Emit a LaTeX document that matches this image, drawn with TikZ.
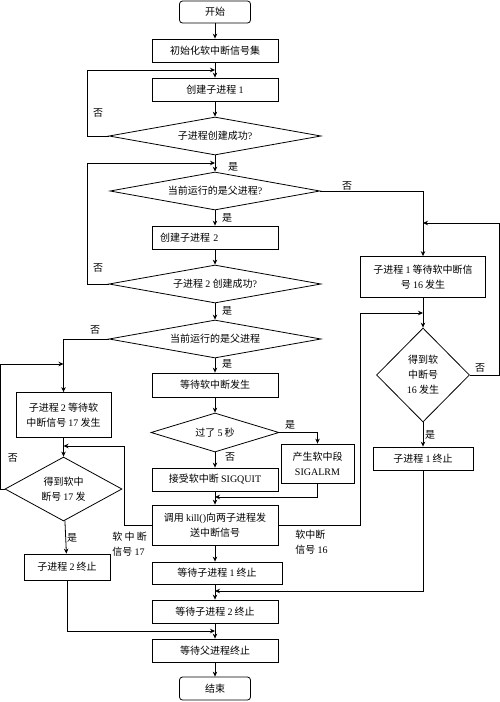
\documentclass[tikz,border=0pt]{standalone}
\usepackage{fontspec}
\setmainfont{Liberation Serif}
\newfontfamily\cjk{Noto Sans CJK SC}
\usetikzlibrary{shapes.geometric,arrows.meta}
\newcommand\zhfont{\cjk\fontsize{10}{15}\selectfont}
\newcommand\en[1]{{\rmfamily #1}}
\tikzset{
  box/.style={draw, rectangle, inner sep=0pt, align=center, font=\zhfont},
  term/.style={box, rounded corners=3pt},
  dia/.style={draw, diamond, inner sep=0pt, align=center, font=\zhfont},
  lbl/.style={inner sep=0pt, font=\zhfont},
  arr/.style={-{Stealth[length=5pt,width=4.5pt]}},
}
\begin{document}
\begin{tikzpicture}[x=1pt,y=-1pt,line width=0.8pt]
\useasboundingbox (0,0) rectangle (500,702);
% centre column
\node[term, minimum width=71pt, minimum height=22pt] (start) at (215,12) {开始};
\node[box, minimum width=126pt, minimum height=23pt] (init) at (215,50.5) {初始化软中断信号集};
\node[box, minimum width=126pt, minimum height=23pt] (c1) at (215,89.5) {创建子进程 \en{1}};
\node[dia, aspect=5.58, minimum width=212pt, minimum height=38pt] (d1) at (215,136) {子进程创建成功\en{?}};
\node[dia, aspect=5.5, minimum width=210pt, minimum height=38pt] (d2) at (215,191) {当前运行的是父进程\en{?}};
\node[box, minimum width=126pt, minimum height=23pt, text width=110pt, inner xsep=8pt, align=left] (c2) at (215,237.5) {创建子进程 \en{2}};
\node[dia, aspect=5.58, minimum width=212pt, minimum height=38pt] (d3) at (215,284) {子进程 \en{2} 创建成功\en{?}};
\node[dia, aspect=5.58, minimum width=212pt, minimum height=38pt] (d4) at (215,339) {当前运行的是父进程};
\node[box, minimum width=126pt, minimum height=24pt] (wait) at (215,385) {等待软中断发生};
\node[dia, aspect=3.3, minimum width=128pt, minimum height=39pt] (d5) at (215,432.5) {过了 \en{5} 秒};
\node[box, minimum width=126pt, minimum height=23pt] (quit) at (215,479.5) {接受软中断 \en{SIGQUIT}};
\node[box, minimum width=73pt, minimum height=39pt] (alrm) at (317.5,463.5) {产生软中段\\\en{SIGALRM}};
\node[box, minimum width=126pt, minimum height=40pt] (kill) at (215,525) {调用 \en{kill()}向两子进程发\\送中断信号};
\node[box, minimum width=130pt, minimum height=22pt] (w1) at (217,573) {等待子进程 \en{1} 终止};
\node[box, minimum width=126pt, minimum height=23pt] (w2) at (215,611.5) {等待子进程 \en{2} 终止};
\node[box, minimum width=126pt, minimum height=23pt] (wp) at (215,650.5) {等待父进程终止};
\node[term, minimum width=71pt, minimum height=23pt] (end) at (215,688.5) {结束};
% left column
\node[box, minimum width=95pt, minimum height=45pt] (b2) at (63.5,415) {子进程 \en{2} 等待软\\中断信号 \en{17} 发生};
\node[dia, aspect=1.83, minimum width=117pt, minimum height=64pt] (d6) at (63.5,489) {得到软中\\断号 \en{17} 发};
\node[box, minimum width=86pt, minimum height=26pt] (e2) at (67,567) {子进程 \en{2} 终止};
% right column
\node[box, minimum width=125pt, minimum height=41pt] (b1) at (423,277) {子进程 \en{1} 等待软中断信\\号 \en{16} 发生};
\node[dia, aspect=1, minimum width=93pt, minimum height=94pt] (d7) at (423,375) {得到软\\中断号\\\en{16} 发生};
\node[box, minimum width=100pt, minimum height=23pt] (e1) at (423,458.5) {子进程 \en{1} 终止};
% junctions
\coordinate (j1) at (215,70);
\coordinate (j2) at (215,163);
\coordinate (j3) at (215,497);
\coordinate (j4) at (63.5,446);
\coordinate (j5) at (63.5,364);
\coordinate (j6) at (423,313);
\coordinate (j7) at (423,223);
\coordinate (j8) at (215,591);
\coordinate (j9) at (215,631);
% main flow
\draw[arr] (start) -- (init);
\draw[arr] (init) -- (c1);
\draw[arr] (c1) -- (d1);
\draw[arr] (d1) -- (d2);
\draw[arr] (d2) -- (c2);
\draw[arr] (c2) -- (d3);
\draw[arr] (d3) -- (d4);
\draw[arr] (d4) -- (wait);
\draw[arr] (wait) -- (d5);
\draw[arr] (d5) -- (quit);
\draw[arr] (quit) -- (kill);
\draw[arr] (kill) -- (w1.north -| kill.south);
\draw[arr] (w1.south -| kill.south) -- (w2);
\draw[arr] (w2) -- (wp);
\draw[arr] (wp) -- (end);
% loops and branches
\draw[arr] (d1.west) -- ++(-21,0) |- (j1);
\draw[arr] (d3.west) -- ++(-21,0) |- (j2);
\draw[arr] (d2.east) -| (b1.north);
\draw[arr] (d4.west) -| (b2.north);
\draw[arr] (d5.east) -| (alrm.north);
\draw[arr] (alrm.south) |- (j3);
\draw[arr] (kill.west) -- ++(-27,0) |- (j4);
\draw[arr] (kill.east) -- ++(82,0) |- (j6);
\draw[arr] (b2) -- (d6);
\draw[arr] (d6.west) -- ++(-4,0) |- (j5);
\draw[arr] (d6) -- (e2);
\draw[arr] (e2.south) |- (j9);
\draw[arr] (b1) -- (d7);
\draw[arr] (d7.east) -- ++(29,0) |- (j7);
\draw[arr] (d7) -- (e1);
\draw[arr] (e1.south) |- (j8);
% labels
\node[lbl] (n1) at (98,113) {否};
\node[lbl] (y1) at (233,167) {是};
\node[lbl] (n2) at (347,186) {否};
\node[lbl] (y2) at (227,218) {是};
\node[lbl] (n3) at (98,268) {否};
\node[lbl] (y3) at (227,311) {是};
\node[lbl] (n4) at (95,330) {否};
\node[lbl] (y4) at (227,364) {是};
\node[lbl] (y5) at (290,425) {是};
\node[lbl] (n5) at (230,457) {否};
\node[lbl] (n6) at (13,458) {否};
\node[lbl] (y6) at (72,538) {是};
\node[lbl] (n7) at (480,368) {否};
\node[lbl] (y7) at (430,435) {是};
\node[lbl, anchor=north west, align=left] (s17) at (112,532) {软 中 断\\信号 \en{17}};
\node[lbl, anchor=north west, align=left] (s16) at (295,530) {软中断\\信号 \en{16}};
\end{tikzpicture}
\end{document}
